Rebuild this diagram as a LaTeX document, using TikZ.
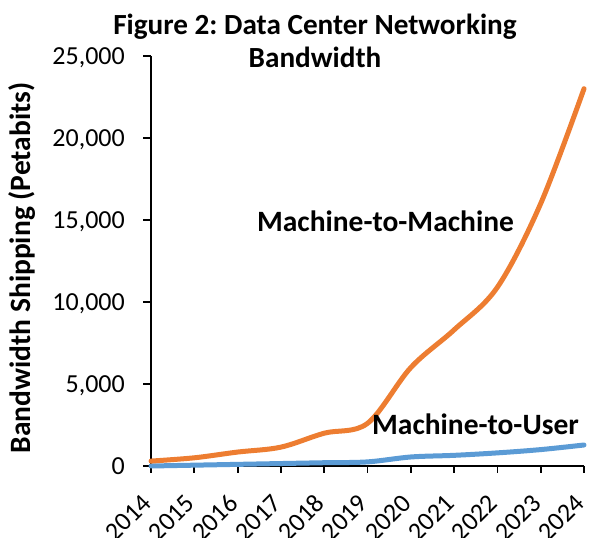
\documentclass[tikz,border=0pt]{standalone}
\usepackage{fontspec}
\setmainfont{Carlito}
\frenchspacing
\definecolor{mtm}{HTML}{ED7D31}
\definecolor{mtu}{HTML}{5B9BD5}
\begin{document}
\begin{tikzpicture}[
  x=43.3pt, y=0.0164pt,
  axisline/.style={line width=1.8pt, black},
  ticklab/.style={font=\fontsize{26}{30}\selectfont, inner sep=0pt},
  boldlab/.style={font=\fontsize{29.5}{32}\selectfont\bfseries, inner sep=0pt},
  titlelab/.style={font=\fontsize{29.2}{32}\selectfont\bfseries, inner sep=0pt, anchor=base},
  series/.style={line width=5pt, line cap=round, line join=round, smooth, tension=0.55}
]
% frame of the picture, origin at the axes corner
\useasboundingbox (-151pt,-72pt) rectangle (441pt,466pt);

% title
\node[titlelab] (title1) at (164pt,431pt) {Figure 2: Data Center Networking};
\node[titlelab] (title2) at (164pt,398pt) {Bandwidth};

% axes
\coordinate (o) at (0,0);
\coordinate (ytop) at (0,25000);
\coordinate (xend) at (10,0);
\draw[axisline] (ytop) -- (o) -- (xend);

% y ticks and labels
\foreach \v/\t in {0/0,5000/{5,000},10000/{10,000},15000/{15,000},20000/{20,000},25000/{25,000}}{
  \coordinate (yt\v) at (0,\v);
  \draw[axisline] (yt\v) -- ++(-8pt,0);
  \node[ticklab, anchor=base east] (yl\v) at ([xshift=-26pt,yshift=-8.5pt]yt\v) {\t};
}

% x ticks and labels
\foreach \i in {0,...,10}{
  \pgfmathtruncatemacro{\yr}{2014+\i}
  \coordinate (xt\i) at (\i,0);
  \draw[axisline] (xt\i) -- ++(0,-7pt);
  \node[ticklab, anchor=east, rotate=45] (xl\i) at ([xshift=-4pt,yshift=-33pt]xt\i) {\yr};
}

% y axis title
\node[boldlab, rotate=90] (ytitle) at (-129pt,12070) {Bandwidth Shipping (Petabits)};

% data series
\draw[series, mtu] plot coordinates {(0,0) (1,50) (2,100) (3,150) (4,200) (5,250) (6,550) (7,650) (8,800) (9,1000) (10,1280)};
\draw[series, mtm] plot coordinates {(0,300) (1,500) (2,850) (3,1150) (4,2000) (5,2600) (6,6000) (7,8300) (8,10900) (9,16000) (10,23000)};

% series labels
\node[boldlab, anchor=base] (mtmlab) at (234.5pt,234pt) {Machine-to-Machine};
\node[boldlab, anchor=base] (mtulab) at (324.5pt,31pt) {Machine-to-User};
\end{tikzpicture}
\end{document}
